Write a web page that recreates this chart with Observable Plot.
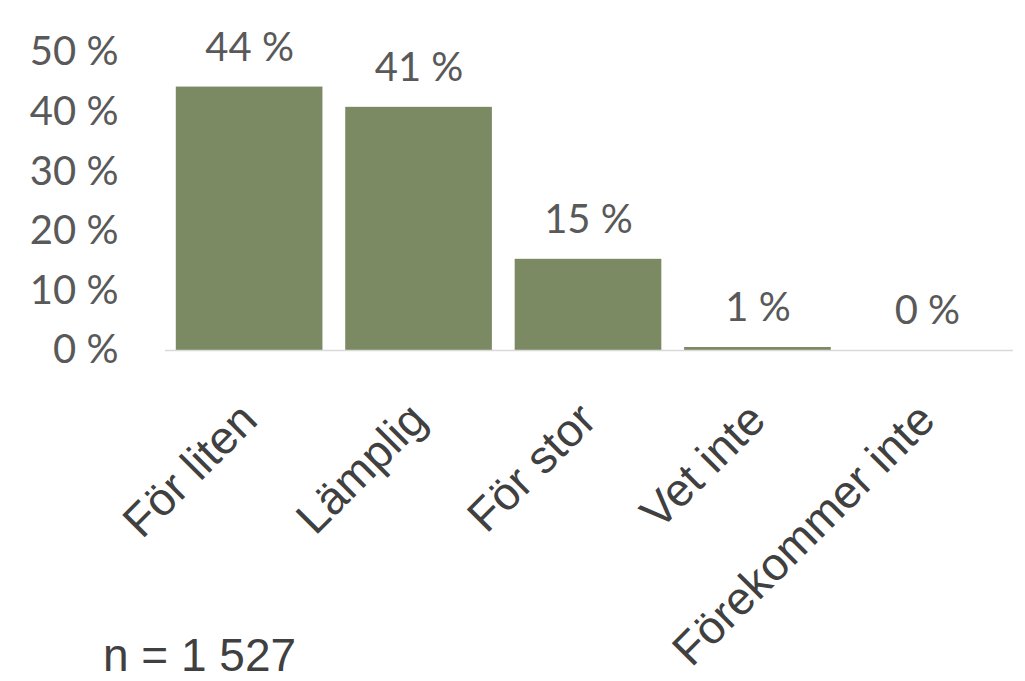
<!DOCTYPE html>
<html>
<head>
<meta charset="utf-8">
<script src="https://cdn.jsdelivr.net/npm/d3@7"></script>
<script src="https://cdn.jsdelivr.net/npm/@observablehq/plot@0.6"></script>
<style>
  html, body { margin: 0; padding: 0; background: #ffffff; }
  #chart { width: 1025px; }
  #caption {
    margin-top: 12px;
    padding-left: 103px;
    font-family: "Liberation Sans", Arial, sans-serif;
    font-size: 46px;
    line-height: 36px;
    color: #404040;
  }
</style>
</head>
<body>
<div id="chart"></div>
<div id="caption"></div>
<script>
const categories = ["För liten", "Lämplig", "För stor", "Vet inte", "Förekommer inte"];
const values = [44.2, 40.8, 15.3, 0.5, 0];
const yTicks = [0, 10, 20, 30, 40, 50];
const sampleSize = "n = 1 527";

const data = categories.map((c, i) => ({category: c, value: values[i]}));

const chart = Plot.plot({
  width: 1025,
  height: 625,
  marginLeft: 153,
  marginRight: 2,
  marginTop: 52,
  marginBottom: 275,
  style: {overflow: "visible", background: "white"},
  x: {domain: categories, padding: 0.1345, round: false, axis: null},
  y: {domain: [0, 50], axis: null},
  marks: [
    Plot.axisY({
      ticks: yTicks,
      tickFormat: d => `${d} %`,
      tickSize: 0,
      tickPadding: 35,
      fontSize: 40,
      fontFamily: "Lato, 'Open Sans', sans-serif",
      color: "#595959",
      label: null
    }),
    Plot.barY(data, {x: "category", y: "value", fill: "#7b8a63"}),
    Plot.ruleY([0], {stroke: "#d9d9d9", strokeWidth: 1.5, insetLeft: 12, insetRight: 10}),
    Plot.text(data, {
      x: "category",
      y: "value",
      text: d => `${Math.round(d.value)} %`,
      dy: -39,
      fontSize: 40,
      fontFamily: "Lato, 'Open Sans', sans-serif",
      fill: "#595959"
    }),
    Plot.text(categories, {
      x: d => d,
      frameAnchor: "bottom",
      text: d => d,
      rotate: -45,
      textAnchor: "end",
      lineAnchor: "bottom",
      dx: 10,
      dy: 72,
      fontSize: 46,
      fontFamily: "'Liberation Sans', Arial, sans-serif",
      fill: "#404040"
    })
  ]
});

document.getElementById("chart").appendChild(chart);
document.getElementById("caption").textContent = sampleSize;
</script>
</body>
</html>
